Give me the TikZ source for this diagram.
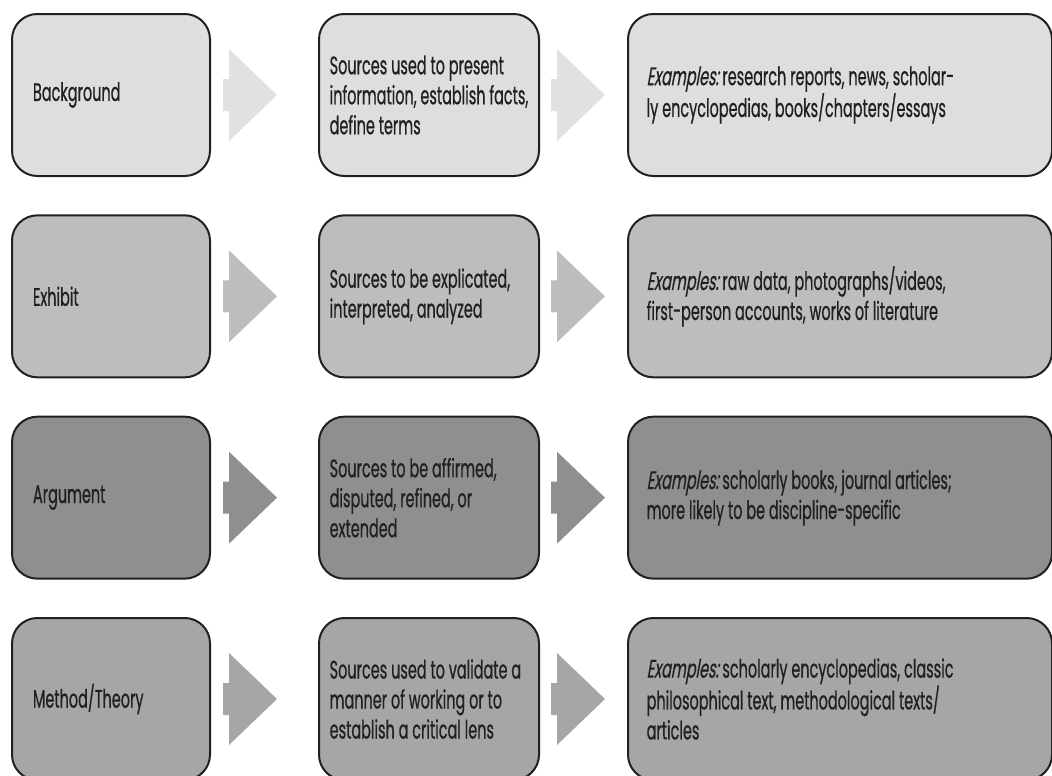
\documentclass[tikz,border=0pt]{standalone}
\usepackage{fontspec}
\setmainfont{Poppins}[FakeStretch=0.57, FakeBold=0.6, ItalicFont=Poppins, ItalicFeatures={FakeSlant=0.18}]
\usetikzlibrary{positioning, calc}
\definecolor{inkdark}{RGB}{35,31,32}
\definecolor{greyback}{RGB}{222,222,222}
\definecolor{greyexhibit}{RGB}{189,189,189}
\definecolor{greyargue}{RGB}{143,143,143}
\definecolor{greymethod}{RGB}{166,166,166}

\begin{document}
\frenchspacing
\begin{tikzpicture}[
    x=0.75pt, y=-0.75pt,
    box/.style={
      rectangle,
      rounded corners=19pt,
      draw=inkdark,
      line width=1.5pt,
      align=flush left,
      minimum height=121.5pt,
      text=inkdark,
      font=\fontsize{19}{22.5}\selectfont
    },
    role/.style={box, inner xsep=15.75pt, text width=117pt},
    usage/.style={box, inner xsep=8pt, text width=149pt},
    example/.style={box, inner xsep=14pt, text width=290pt},
    blockarrow/.pic={
      \path[pic actions] (0,-16) -- (6,-16) -- (6,-46) -- (54,0) -- (6,46)
        -- (6,16) -- (0,16) -- cycle;
    }
]
\useasboundingbox (0,0) rectangle (1052,775);

% row 1
\node[role, fill=greyback] (bgrole) at (111,95) {Background};
\node[usage, fill=greyback, right=80.25pt of bgrole] (bguse)
  {Sources used to present\\information, establish~facts,\\define terms};
\node[example, fill=greyback, right=65.25pt of bguse] (bgex)
  {\textit{Examples:} research reports, news, scholar-\\ly encyclopedias, books/chapters/essays};

% row 2
\node[role, fill=greyexhibit, below=28pt of bgrole] (exrole) {Exhibit};
\node[usage, fill=greyexhibit, right=80.25pt of exrole] (exuse)
  {Sources to be explicated,\\interpreted, analyzed};
\node[example, fill=greyexhibit, right=65.25pt of exuse] (exex)
  {\textit{Examples:} raw data, photographs/videos,\\first-person accounts, works of literature};

% row 3
\node[role, fill=greyargue, below=28pt of exrole] (argrole) {Argument};
\node[usage, fill=greyargue, right=80.25pt of argrole] (arguse)
  {Sources to be affirmed,\\disputed, refined, or\\extended};
\node[example, fill=greyargue, right=65.25pt of arguse] (argex)
  {\textit{Examples:} scholarly books, journal articles;\\more likely to be discipline-specific};

% row 4
\node[role, fill=greymethod, below=28pt of argrole] (mtrole) {Method/Theory};
\node[usage, fill=greymethod, right=80.25pt of mtrole] (mtuse)
  {Sources used to validate~a\\manner of working or~to\\establish a critical lens};
\node[example, fill=greymethod, right=65.25pt of mtuse] (mtex)
  {\textit{Examples:} scholarly encyclopedias, classic\\philosophical text, methodological texts/\\articles};

% arrows
\pic[fill=greyback!92!white] at ($(bgrole.east)+(12,0)$) {blockarrow};
\pic[fill=greyback!92!white] at ($(bguse.east)+(11,0)$) {blockarrow};
\pic[fill=greyexhibit] at ($(exrole.east)+(12,0)$) {blockarrow};
\pic[fill=greyexhibit] at ($(exuse.east)+(11,0)$) {blockarrow};
\pic[fill=greyargue] at ($(argrole.east)+(12,0)$) {blockarrow};
\pic[fill=greyargue] at ($(arguse.east)+(11,0)$) {blockarrow};
\pic[fill=greymethod] at ($(mtrole.east)+(12,0)$) {blockarrow};
\pic[fill=greymethod] at ($(mtuse.east)+(11,0)$) {blockarrow};
\end{tikzpicture}
\end{document}
